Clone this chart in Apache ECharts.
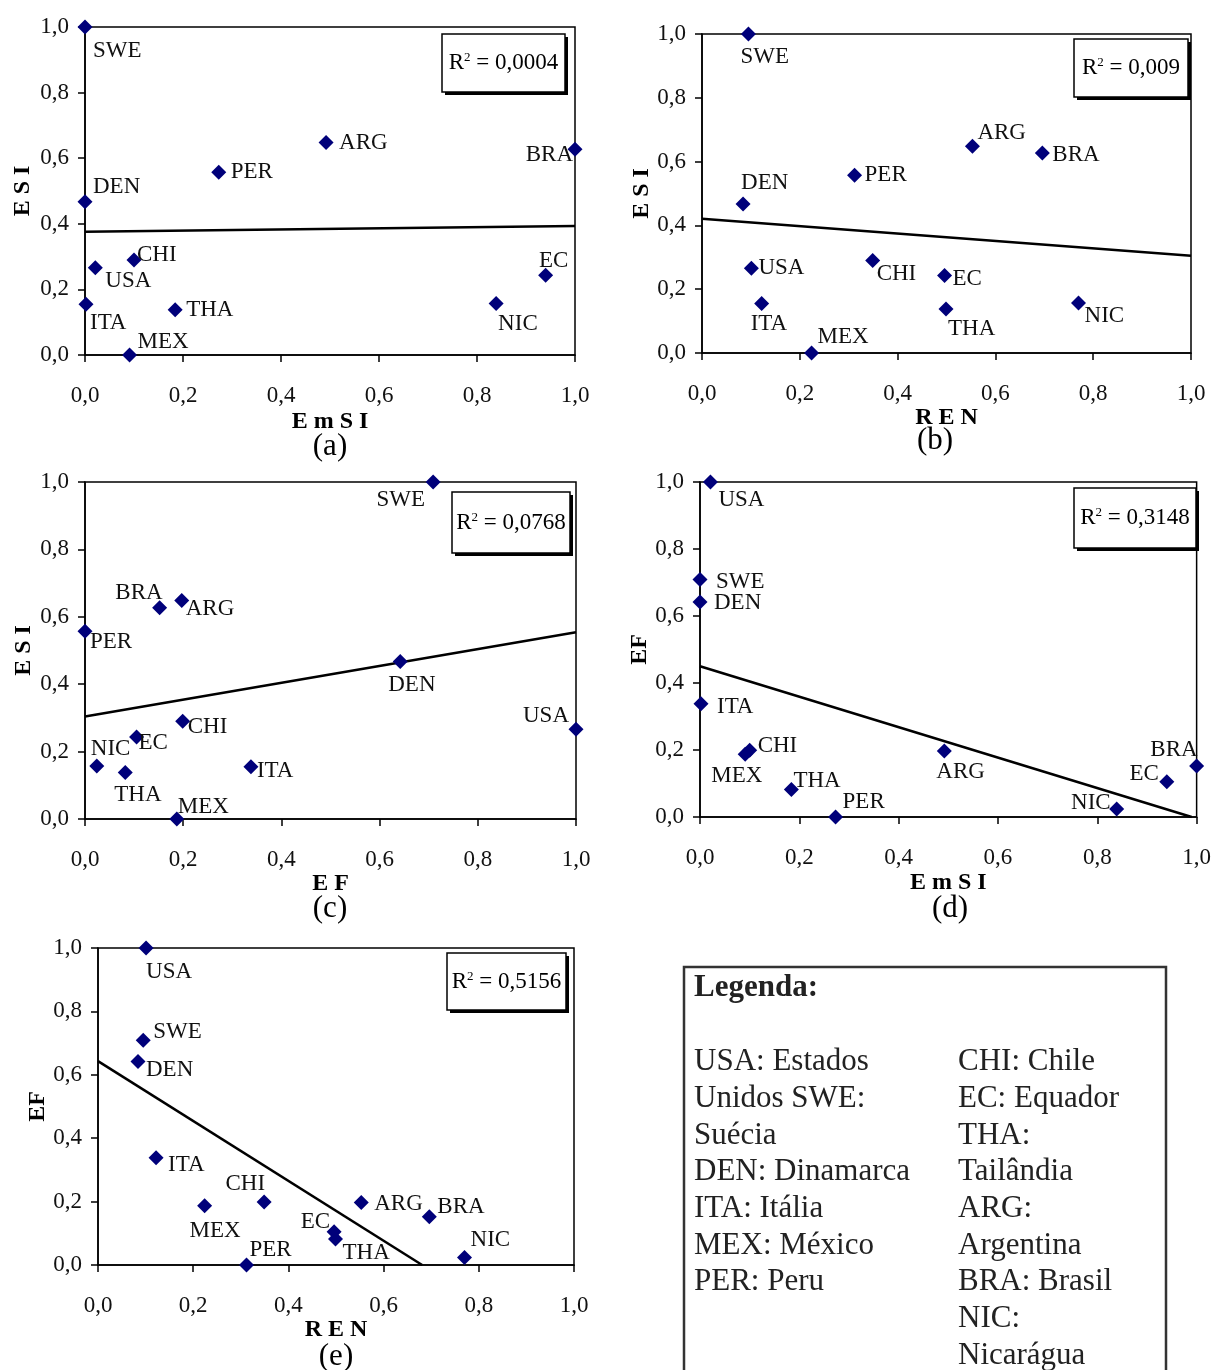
<!DOCTYPE html>
<html>
<head>
<meta charset="utf-8">
<script src="https://cdn.jsdelivr.net/npm/echarts@6/dist/echarts.min.js"></script>
<style>
html,body{margin:0;padding:0;background:#fff;}
#chart{width:1214px;height:1370px;}
</style>
</head>
<body>
<div id="chart"></div>
<script>
// Indicator values per country (normalised 0..1)
const countries = ['SWE','DEN','USA','CHI','ITA','MEX','THA','PER','ARG','BRA','EC','NIC'];
const esi  = [1.000, 0.467, 0.266, 0.290, 0.155, 0.000, 0.138, 0.557, 0.648, 0.627, 0.243, 0.157];
const emsi = [0.000, 0.000, 0.021, 0.100, 0.002, 0.091, 0.184, 0.273, 0.492, 1.000, 0.940, 0.839];
const ren  = [0.095, 0.084, 0.101, 0.349, 0.122, 0.224, 0.499, 0.312, 0.553, 0.696, 0.496, 0.770];
const ef   = [0.709, 0.642, 1.000, 0.199, 0.338, 0.187, 0.082, 0.000, 0.197, 0.152, 0.105, 0.024];

// Linear trend lines (start and end points, clipped at the axes)
const trendA = [[0, 0.376], [1, 0.393]];
const trendB = [[0, 0.421], [1, 0.305]];
const trendC = [[0, 0.304], [1, 0.554]];
const trendD = [[0, 0.450], [0.99, 0]];
const trendE = [[0, 0.643], [0.681, 0]];

const r2Values = ['0,0004', '0,009', '0,0768', '0,3148', '0,5156'];
const captions = ['(a)', '(b)', '(c)', '(d)', '(e)'];
const axisTicks = [0, 0.2, 0.4, 0.6, 0.8, 1.0];

const legendTitle = 'Legenda:';
const legendLeft = ['USA: Estados', 'Unidos SWE:', 'Suécia', 'DEN: Dinamarca', 'ITA: Itália', 'MEX: México', 'PER: Peru'];
const legendRight = ['CHI: Chile', 'EC: Equador', 'THA:', 'Tailândia', 'ARG:', 'Argentina', 'BRA: Brasil', 'NIC:', 'Nicarágua'];

// ---- layout ----
const SERIF = '"Liberation Serif","Times New Roman",serif';
const panels = [
  { x: emsi, y: esi, xName: 'E m S I', yName: 'E S I', trend: trendA,
    grid: {left: 85, top: 27, width: 490, height: 328}, xGap: 55, yGap: 50,
    box: [442, 34, 123, 58], cap: [330, 447] },
  { x: ren, y: esi, xName: 'R E N', yName: 'E S I', trend: trendB,
    grid: {left: 702, top: 34, width: 489, height: 319}, xGap: 47, yGap: 48,
    box: [1074, 39, 114, 58], cap: [935, 441] },
  { x: ef, y: esi, xName: 'E F', yName: 'E S I', trend: trendC,
    grid: {left: 85, top: 482, width: 491, height: 337}, xGap: 51, yGap: 49,
    box: [452, 492, 118, 61], cap: [330, 909] },
  { x: emsi, y: ef, xName: 'E m S I', yName: 'EF', trend: trendD,
    grid: {left: 700, top: 482, width: 499, height: 335}, xGap: 54, yGap: 41,
    box: [1074, 488, 122, 60], cap: [950, 909] },
  { x: ren, y: ef, xName: 'R E N', yName: 'EF', trend: trendE,
    grid: {left: 98, top: 948, width: 476, height: 317}, xGap: 46, yGap: 37,
    box: [447, 953, 119, 57], cap: [336, 1357] }
];

// label placement: [dx, dy, align] relative to the marker centre
const placements = [
  { SWE:[8,24,'left'], DEN:[8,-15,'left'], PER:[12,0,'left'], ARG:[13,0,'left'], BRA:[-2,6,'right'],
    CHI:[3,-5,'left'], USA:[10,13,'left'], ITA:[4,19,'left'], MEX:[8,-13,'left'], THA:[11,0,'left'],
    EC:[8,-14,'center'], NIC:[2,20,'left'] },
  { SWE:[-8,23,'left'], DEN:[-2,-21,'left'], PER:[10,0,'left'], ARG:[5,-13,'left'], BRA:[10,2,'left'],
    USA:[7,0,'left'], CHI:[4,13,'left'], EC:[8,3,'left'], ITA:[-11,20,'left'], THA:[2,20,'left'],
    NIC:[6,13,'left'], MEX:[6,-16,'left'] },
  { SWE:[-8,18,'right'], BRA:[3,-15,'right'], ARG:[4,8,'left'], PER:[5,11,'left'], DEN:[-12,23,'left'],
    USA:[-7,-13,'right'], CHI:[5,6,'left'], EC:[2,6,'left'], NIC:[-6,-17,'left'], THA:[-11,22,'left'],
    ITA:[6,4,'left'], MEX:[1,-12,'left'] },
  { USA:[8,18,'left'], SWE:[16,2,'left'], DEN:[14,1,'left'], ITA:[16,3,'left'], CHI:[8,-4,'left'],
    MEX:[-34,22,'left'], THA:[2,-9,'left'], PER:[7,-15,'left'], ARG:[-8,21,'left'], NIC:[-6,-6,'right'],
    EC:[-8,-8,'right'], BRA:[1,-16,'right'] },
  { USA:[0,24,'left'], SWE:[10,-8,'left'], DEN:[8,8,'left'], ITA:[12,7,'left'], MEX:[-15,25,'left'],
    CHI:[1,-18,'right'], PER:[3,-15,'left'], EC:[-4,-10,'right'], THA:[7,14,'left'], ARG:[13,1,'left'],
    BRA:[8,-10,'left'], NIC:[6,-17,'left'] }
];

const fmt = v => v.toFixed(1).replace('.', ',');

const grids = [], xAxes = [], yAxes = [], series = [], graphics = [];

panels.forEach((p, i) => {
  grids.push(Object.assign({ show: true, borderColor: '#000', borderWidth: 1.5,
    backgroundColor: 'transparent', containLabel: false }, p.grid));
  const axisBase = {
    type: 'value', min: axisTicks[0], max: axisTicks[axisTicks.length - 1],
    interval: axisTicks[1] - axisTicks[0], gridIndex: i,
    axisLine: { show: true, onZero: false, lineStyle: { color: '#000', width: 1.5 } },
    axisTick: { show: true, inside: false, length: 7, lineStyle: { color: '#000', width: 1.5 } },
    splitLine: { show: false },
    nameLocation: 'middle',
    nameTextStyle: { fontFamily: SERIF, fontSize: 24, fontWeight: 'bold', color: '#000' }
  };
  xAxes.push(Object.assign({}, axisBase, {
    name: p.xName, nameGap: p.xGap,
    axisLabel: { formatter: fmt, fontFamily: SERIF, fontSize: 23, color: '#111', margin: 29 }
  }));
  yAxes.push(Object.assign({}, axisBase, {
    name: p.yName, nameGap: p.yGap, nameRotate: 90,
    axisLabel: { formatter: fmt, fontFamily: SERIF, fontSize: 23, color: '#111', margin: 16 }
  }));

  const place = placements[i];
  series.push({
    type: 'scatter', xAxisIndex: i, yAxisIndex: i, z: 5,
    symbol: 'diamond', symbolSize: [15, 15],
    itemStyle: { color: '#00007a', opacity: 1 },
    data: countries.map((c, k) => {
      const pl = place[c];
      return {
        name: c, value: [p.x[k], p.y[k]],
        label: { show: true, formatter: c, position: 'inside', align: pl[2], verticalAlign: 'middle',
          offset: [pl[0], pl[1]], fontFamily: SERIF, fontSize: 23, color: '#111' }
      };
    })
  });
  series.push({
    type: 'line', xAxisIndex: i, yAxisIndex: i, z: 3,
    showSymbol: false, symbol: 'none', silent: true,
    lineStyle: { color: '#000', width: 2.5 },
    data: p.trend
  });

  // R² annotation box with drop shadow
  const [bx, by, bw, bh] = p.box;
  graphics.push({ type: 'rect', z: 10, shape: { x: bx + 3, y: by + 3, width: bw, height: bh }, style: { fill: '#000' } });
  graphics.push({ type: 'rect', z: 11, shape: { x: bx, y: by, width: bw, height: bh }, style: { fill: '#fff', stroke: '#000', lineWidth: 1.5 } });
  graphics.push({ type: 'text', z: 12, x: bx + bw / 2, y: by + bh / 2,
    style: { text: '{r|R}{s|2}{r| = ' + r2Values[i] + '}', align: 'center', verticalAlign: 'middle',
      rich: { r: { fontFamily: SERIF, fontSize: 23, fill: '#000' },
              s: { fontFamily: SERIF, fontSize: 13, fill: '#000', verticalAlign: 'top' } } } });
  graphics.push({ type: 'text', z: 12, x: p.cap[0], y: p.cap[1],
    style: { text: captions[i], fontFamily: SERIF, fontSize: 31, fill: '#000', align: 'center', verticalAlign: 'middle' } });
});

// legend box
graphics.push({ type: 'rect', z: 10, shape: { x: 684, y: 967, width: 482, height: 420 },
  style: { fill: '#fff', stroke: '#333', lineWidth: 2.5 } });
graphics.push({ type: 'text', z: 12, x: 694, y: 988,
  style: { text: legendTitle, fontFamily: SERIF, fontSize: 31, fontWeight: 'bold', fill: '#222', align: 'left', verticalAlign: 'middle' } });
legendLeft.forEach((t, k) => graphics.push({ type: 'text', z: 12, x: 694, y: 1062 + k * 36.7,
  style: { text: t, fontFamily: SERIF, fontSize: 31, fill: '#222', align: 'left', verticalAlign: 'middle' } }));
legendRight.forEach((t, k) => graphics.push({ type: 'text', z: 12, x: 958, y: 1062 + k * 36.7,
  style: { text: t, fontFamily: SERIF, fontSize: 31, fill: '#222', align: 'left', verticalAlign: 'middle' } }));

const chart = echarts.init(document.getElementById('chart'), null, { renderer: 'canvas' });
chart.setOption({
  backgroundColor: '#fff',
  animation: false,
  grid: grids, xAxis: xAxes, yAxis: yAxes,
  series: series,
  graphic: graphics
});
</script>
</body>
</html>
